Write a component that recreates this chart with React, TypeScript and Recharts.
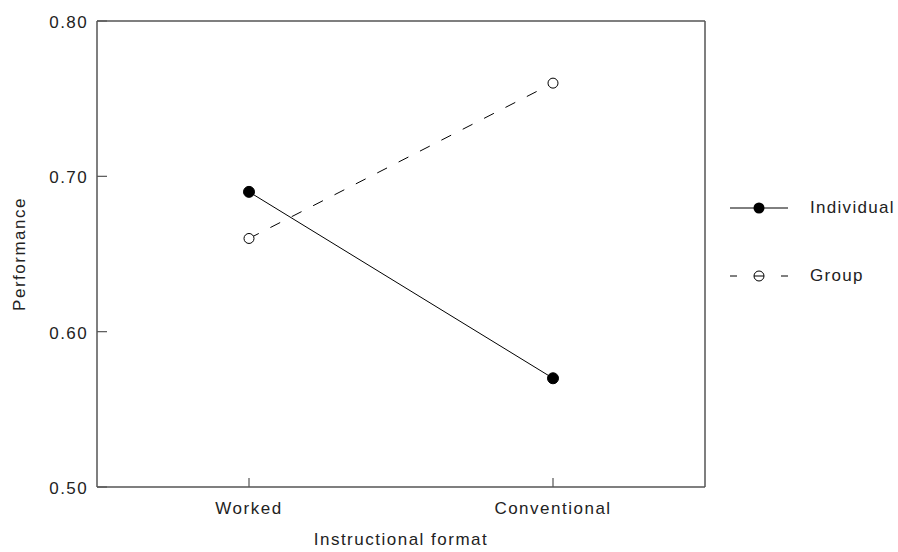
import React from 'react';
import { LineChart, Line, XAxis, YAxis, Legend, CartesianGrid } from 'recharts';

const formats = ['Worked', 'Conventional'];
const individual = [0.69, 0.57];
const group = [0.66, 0.76];
const yTicks = [0.5, 0.6, 0.7, 0.8];

const data = formats.map((format, i) => ({
  format,
  individual: individual[i],
  group: group[i],
}));

const FONT = '"Liberation Sans", Arial, sans-serif';
const AXIS = '#555';
const TEXT = '#222';

const XTick = (props: any) => {
  const { x, y, payload } = props;
  return (
    <g>
      <line x1={x} y1={y} x2={x} y2={y - 9} stroke={AXIS} strokeWidth={1.2} />
      <text x={x} y={y + 27} textAnchor="middle" fill={TEXT} fontSize={17} fontFamily={FONT} letterSpacing={1.5}>
        {payload.value}
      </text>
    </g>
  );
};

const YTick = (props: any) => {
  const { x, y, payload } = props;
  return (
    <g>
      <line x1={x} y1={y} x2={x + 10} y2={y} stroke={AXIS} strokeWidth={1.2} />
      <text x={x - 9} y={y + 7} textAnchor="end" fill={TEXT} fontSize={17} fontFamily={FONT} letterSpacing={1.4}>
        {Number(payload.value).toFixed(2)}
      </text>
    </g>
  );
};

const LegendBox = () => (
  <div style={{ fontFamily: FONT, fontSize: 17, color: TEXT, letterSpacing: 1.3 }}>
    <div style={{ display: 'flex', alignItems: 'center', height: 24 }}>
      <svg width={60} height={24}>
        <line x1={1} y1={12} x2={59} y2={12} stroke="#000" strokeWidth={1} />
        <circle cx={30} cy={12} r={5.5} fill="#000" />
      </svg>
      <span style={{ marginLeft: 21 }}>Individual</span>
    </div>
    <div style={{ display: 'flex', alignItems: 'center', height: 24, marginTop: 44 }}>
      <svg width={60} height={24}>
        <line x1={1} y1={12} x2={59} y2={12} stroke="#000" strokeWidth={1} strokeDasharray="7 17 10 17 7" />
        <circle cx={30} cy={12} r={5} fill="none" stroke="#000" strokeWidth={1} />
      </svg>
      <span style={{ marginLeft: 21 }}>Group</span>
    </div>
  </div>
);

export default function App() {
  return (
    <div style={{ position: 'absolute', left: 0, top: 0, width: 898, height: 552, background: '#fff' }}>
      <LineChart width={898} height={552} data={data} margin={{ top: 21, right: 193, bottom: 25, left: 0 }}>
        <CartesianGrid
          stroke={AXIS}
          strokeWidth={1.5}
          horizontalCoordinatesGenerator={({ offset }: any) => [offset.top]}
          verticalCoordinatesGenerator={({ offset }: any) => [offset.left + offset.width]}
        />
        <XAxis
          dataKey="format"
          scale="band"
          stroke={AXIS}
          strokeWidth={1.5}
          tickSize={0}
          tickMargin={0}
          tickLine={false}
          tick={<XTick />}
          height={40}
        />
        <YAxis
          domain={[0.5, 0.8]}
          ticks={yTicks}
          stroke={AXIS}
          strokeWidth={1.5}
          tickSize={0}
          tickMargin={0}
          tickLine={false}
          tick={<YTick />}
          width={97}
        />
        <Legend
          layout="vertical"
          align="center"
          verticalAlign="middle"
          content={<LegendBox />}
          wrapperStyle={{ left: 729, top: 196, width: 170 }}
        />
        <Line
          dataKey="individual"
          type="linear"
          stroke="#000"
          strokeWidth={1}
          dot={{ r: 5.5, fill: '#000', stroke: '#000', strokeWidth: 1 }}
          isAnimationActive={false}
        />
        <Line
          dataKey="group"
          type="linear"
          stroke="#000"
          strokeWidth={1}
          strokeDasharray="11 13"
          dot={{ r: 5, fill: '#fff', stroke: '#000', strokeWidth: 1, strokeDasharray: '0' }}
          isAnimationActive={false}
        />
        <text x={401} y={545} textAnchor="middle" fill={TEXT} fontSize={17} fontFamily={FONT} letterSpacing={1.5}>
          Instructional format
        </text>
        <text
          x={25}
          y={254}
          textAnchor="middle"
          fill={TEXT}
          fontSize={17}
          fontFamily={FONT}
          letterSpacing={1.5}
          transform="rotate(-90 25 254)"
        >
          Performance
        </text>
      </LineChart>
    </div>
  );
}
